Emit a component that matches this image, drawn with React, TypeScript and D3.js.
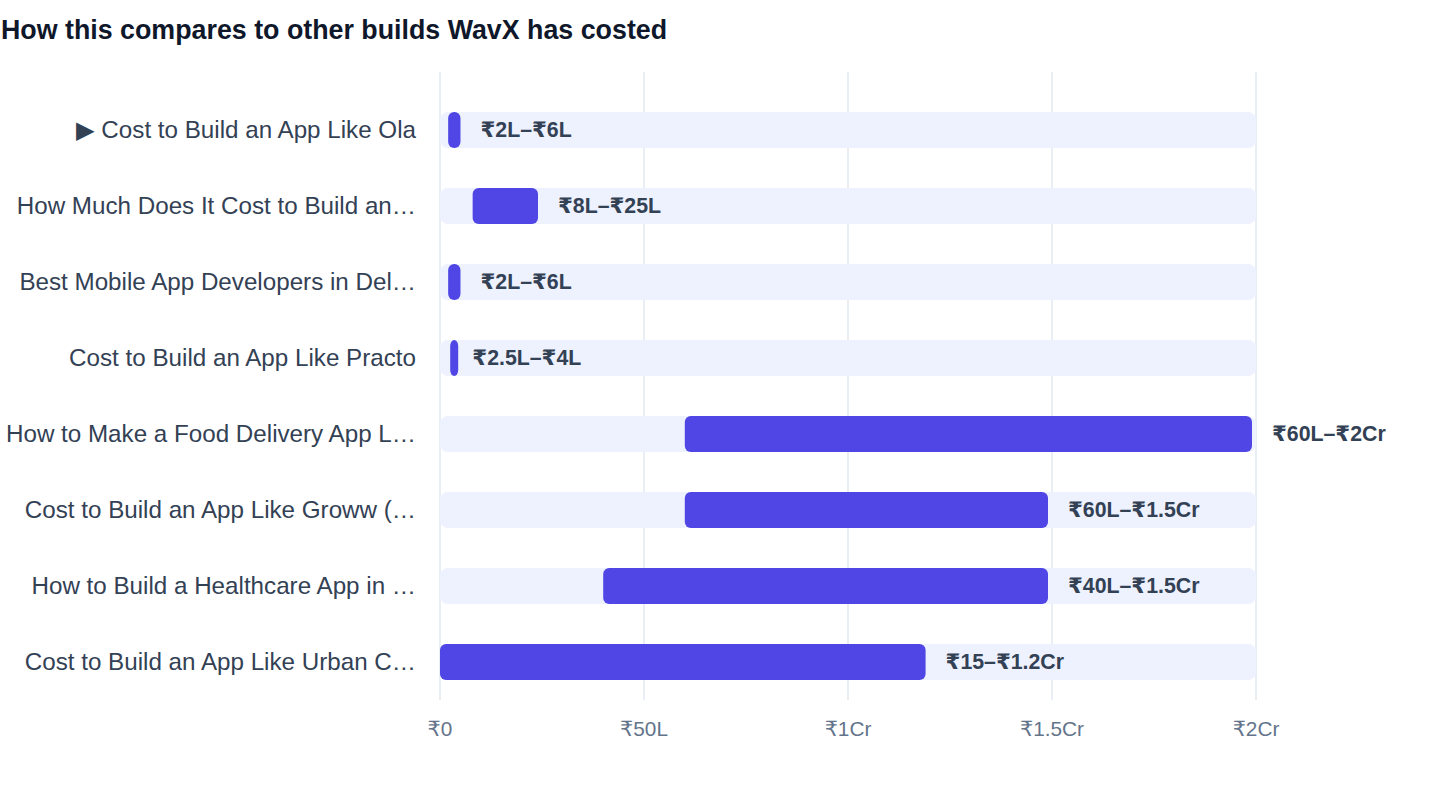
import React from 'react';
import * as d3 from 'd3';

// Builds shown in the comparison (labels as they appear, already truncated)
const builds = [
  'Cost to Build an App Like Ola',
  'How Much Does It Cost to Build an…',
  'Best Mobile App Developers in Del…',
  'Cost to Build an App Like Practo',
  'How to Make a Food Delivery App L…',
  'Cost to Build an App Like Groww (…',
  'How to Build a Healthcare App in …',
  'Cost to Build an App Like Urban C…',
];
// cost ranges in lakh rupees
const lowLakh = [2, 8, 2, 2.5, 60, 60, 40, 0.00015];
const highLakh = [6, 25, 6, 4, 200, 150, 150, 120];
const rangeLabels = [
  '₹2L–₹6L',
  '₹8L–₹25L',
  '₹2L–₹6L',
  '₹2.5L–₹4L',
  '₹60L–₹2Cr',
  '₹60L–₹1.5Cr',
  '₹40L–₹1.5Cr',
  '₹15–₹1.2Cr',
];
const currentIndex = 0;
const tickValues = [0, 50, 100, 150, 200];
const tickLabels = ['₹0', '₹50L', '₹1Cr', '₹1.5Cr', '₹2Cr'];

const WIDTH = 1440;
const HEIGHT = 788;
const FONT = '"Helvetica Neue", Helvetica, "Liberation Sans", Arial, "DejaVu Sans", sans-serif';

export default function App() {
  const x = d3.scaleLinear().domain([0, 200]).range([440, 1256]);
  const y = d3
    .scaleBand<string>()
    .domain(builds)
    .range([72, 720])
    .paddingInner(40 / 76)
    .paddingOuter(40 / 76);
  const bw = y.bandwidth();
  const gridTop = 72;
  const gridBottom = 700;

  return (
    <div style={{ position: 'absolute', left: 0, top: 0, background: '#fff' }}>
      <svg width={WIDTH} height={HEIGHT} style={{ display: 'block', fontFamily: FONT }}>
        <text x={1} y={39} fontSize={26.8} fontWeight={700} fill="#0f172a">
          How this compares to other builds WavX has costed
        </text>

        {/* grid */}
        {tickValues.map((t) => (
          <line
            key={'g' + t}
            x1={x(t)}
            x2={x(t)}
            y1={gridTop}
            y2={gridBottom}
            stroke="#e2e8f0"
            strokeWidth={1.5}
          />
        ))}

        {builds.map((b, i) => {
          const y0 = y(b)!;
          const x0 = x(lowLakh[i]);
          const w = Math.max(x(highLakh[i]) - x0 - 4, 8);
          return (
            <g key={b}>
              <rect x={x(0)} y={y0} width={x(200) - x(0)} height={bw} rx={8} fill="#eef2ff" />
              <rect x={x0} y={y0} width={w} height={bw} rx={6} fill="#4f46e5" />
              <text
                x={x(highLakh[i]) + 16}
                y={y0 + bw / 2}
                dy="0.35em"
                fontSize={21.3}
                fontWeight={700}
                fill="#334155"
              >
                {rangeLabels[i]}
              </text>
              <text
                x={416}
                y={y0 + bw / 2}
                dy="0.35em"
                textAnchor="end"
                fontSize={24.2}
                fill="#334155"
              >
                {i === currentIndex ? '▶ ' + b : b}
              </text>
            </g>
          );
        })}

        {/* axis ticks */}
        {tickValues.map((t, i) => (
          <text
            key={'t' + t}
            x={x(t)}
            y={729}
            dy="0.35em"
            textAnchor="middle"
            fontSize={20.8}
            fill="#64748b"
          >
            {tickLabels[i]}
          </text>
        ))}
      </svg>
    </div>
  );
}
